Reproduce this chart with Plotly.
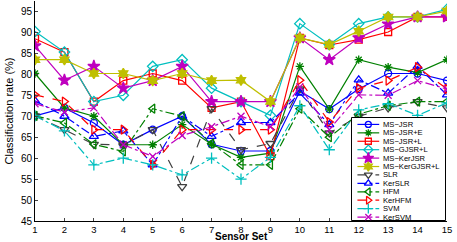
import plotly.graph_objects as go

sensor_sets = list(range(1, 16))
ms_jsr      = [70.1, 72.0, 68.4, 63.2, 66.8, 70.0, 63.3, 61.7, 61.7, 76.0, 71.7, 76.5, 80.2, 80.2, 78.5]
ms_jsr_e    = [80.2, 72.0, 70.0, 63.2, 63.2, 68.0, 63.3, 60.2, 61.2, 81.9, 71.7, 83.5, 81.7, 80.4, 83.5]
ms_jsr_l    = [88.5, 85.3, 73.5, 78.5, 80.2, 78.5, 72.0, 73.5, 60.5, 88.7, 87.0, 88.3, 90.1, 93.7, 93.7]
ms_gjsr_l   = [90.2, 85.3, 73.5, 75.0, 81.9, 83.5, 76.7, 73.5, 70.2, 92.1, 87.1, 92.1, 93.7, 93.7, 95.5]
ms_kerjsr   = [86.8, 78.6, 81.9, 76.7, 78.5, 81.9, 73.5, 73.5, 73.5, 88.7, 83.5, 88.7, 92.0, 93.7, 93.7]
ms_kergjsr  = [83.5, 83.5, 80.2, 80.2, 78.5, 80.2, 78.5, 78.6, 73.5, 88.7, 87.1, 90.3, 93.7, 93.7, 95.1]
slr         = [70.1, 66.8, 63.3, 63.2, 66.8, 53.2, 71.8, 62.0, 63.5, 76.5, 66.0, 70.0, 72.0, 73.5, 72.0]
kerslr      = [73.7, 70.0, 65.2, 66.5, 58.4, 70.0, 65.2, 68.5, 68.5, 75.5, 68.0, 78.7, 75.5, 81.9, 75.1]
hfm         = [70.1, 68.4, 63.3, 61.6, 71.8, 70.0, 63.5, 58.4, 58.4, 71.8, 65.0, 70.5, 72.5, 73.5, 73.5]
kerhfm      = [75.1, 73.5, 66.8, 66.8, 58.4, 66.8, 66.8, 66.8, 66.8, 78.6, 68.6, 76.7, 78.5, 81.7, 76.5]
svm         = [70.1, 66.5, 58.4, 60.0, 58.4, 56.0, 60.0, 55.0, 60.2, 72.5, 62.0, 71.5, 73.0, 70.2, 73.2]
kersvm      = [73.0, 71.0, 72.0, 63.2, 60.4, 65.4, 67.5, 70.0, 67.5, 77.0, 66.8, 75.1, 75.0, 78.5, 76.5]

y_ticks = [45, 50, 55, 60, 65, 70, 75, 80, 85, 90, 95]

series = [
    ("MS\u2212JSR", ms_jsr, "#0000ff", "solid", "circle-open", 7),
    ("MS\u2212JSR+E", ms_jsr_e, "#008000", "solid", "asterisk-open", 7),
    ("MS\u2212JSR+L", ms_jsr_l, "#ff0000", "solid", "square-open", 7),
    ("MS\u2212GJSR+L", ms_gjsr_l, "#00bfbf", "solid", "diamond-open", 8),
    ("MS\u2212KerJSR", ms_kerjsr, "#bf00bf", "solid", "star", 9),
    ("MS\u2212KerGJSR+L", ms_kergjsr, "#bfbf00", "solid", "hexagram", 8),
    ("SLR", slr, "#404040", "dash", "triangle-down-open", 8),
    ("KerSLR", kerslr, "#0000ff", "dashdot", "triangle-up-open", 8),
    ("HFM", hfm, "#008000", "dashdot", "triangle-left-open", 8),
    ("KerHFM", kerhfm, "#ff0000", "dash", "triangle-right-open", 8),
    ("SVM", svm, "#00bfbf", "dashdot", "cross-thin-open", 8),
    ("KerSVM", kersvm, "#bf00bf", "dashdot", "x-thin-open", 7),
]

fig = go.Figure()
for name, vals, color, dash, sym, size in series:
    fig.add_trace(go.Scatter(
        x=sensor_sets, y=vals, name=name, mode="lines+markers", showlegend=False,
        line=dict(color=color, width=1.2, dash=dash),
        marker=dict(symbol=sym, size=size, color=color, line=dict(color=color, width=1.3)),
    ))

# --- custom compact legend in an inset axis (units: pixels inside the box) ---
box_w, box_h = 95, 104
row0, row_step = 7, 8.5
fig.add_trace(go.Scatter(
    x=[0, box_w, box_w, 0, 0], y=[0, 0, box_h, box_h, 0], xaxis="x2", yaxis="y2",
    mode="lines", fill="toself", fillcolor="white", line=dict(color="black", width=1),
    showlegend=False, hoverinfo="skip",
))
annotations = []
for i, (name, vals, color, dash, sym, size) in enumerate(series):
    yy = row0 + row_step * i
    fig.add_trace(go.Scatter(
        x=[6, 28], y=[yy, yy], xaxis="x2", yaxis="y2", mode="lines",
        line=dict(color=color, width=1.2, dash=dash), showlegend=False, hoverinfo="skip",
    ))
    fig.add_trace(go.Scatter(
        x=[17], y=[yy], xaxis="x2", yaxis="y2", mode="markers",
        marker=dict(symbol=sym, size=size - 1, color=color, line=dict(color=color, width=1.3)),
        showlegend=False, hoverinfo="skip",
    ))
    annotations.append(dict(
        x=30, y=yy, xref="x2", yref="y2", text=name, showarrow=False,
        xanchor="left", yanchor="middle", font=dict(size=7.6, color="black"),
    ))

plot_l, plot_r, plot_t, plot_b = 35, 447, 1, 221
pw, ph = plot_r - plot_l, plot_b - plot_t
leg_x0, leg_y0 = 351, 117

annotations.append(dict(
    x=0.5, y=-(236.5 - plot_b) / ph, xref="paper", yref="paper", text="<b>Sensor Set</b>",
    showarrow=False, xanchor="center", yanchor="middle", font=dict(size=10, color="black"),
))

fig.update_layout(
    width=457, height=242,
    margin=dict(l=plot_l, r=457 - plot_r, t=plot_t, b=242 - plot_b),
    paper_bgcolor="white", plot_bgcolor="white",
    font=dict(family="Liberation Sans, Arial, sans-serif", size=10, color="black"),
    showlegend=False,
    annotations=annotations,
    xaxis=dict(
        range=[1, 15], tickvals=sensor_sets, ticks="inside", ticklen=3,
        showline=True, linecolor="black", linewidth=1, showgrid=False, zeroline=False,
        tickfont=dict(size=9.5), ticklabelstandoff=0,
    ),
    yaxis=dict(
        range=[45, 97.5], tickvals=y_ticks, ticks="inside", ticklen=3,
        showline=True, linecolor="black", linewidth=1, showgrid=False, zeroline=False,
        tickfont=dict(size=10),
        title=dict(text="Classification rate (%)", font=dict(size=11), standoff=5),
    ),
    xaxis2=dict(
        domain=[(leg_x0 - plot_l) / pw, (leg_x0 + box_w - plot_l) / pw],
        range=[-0.5, box_w + 0.5], visible=False, anchor="y2", fixedrange=True,
    ),
    yaxis2=dict(
        domain=[(plot_b - leg_y0 - box_h) / ph, (plot_b - leg_y0) / ph],
        range=[box_h + 0.5, -0.5], visible=False, anchor="x2", fixedrange=True,
    ),
)

fig.write_html(
    "out.html",
    config={"displayModeBar": False},
    post_script="document.body.style.margin='0';document.body.style.overflow='hidden';",
)
